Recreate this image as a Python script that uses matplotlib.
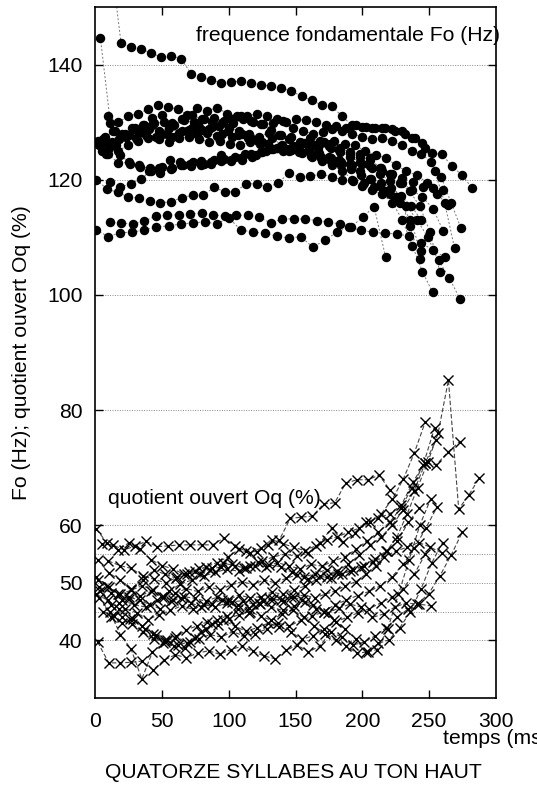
import numpy as np
import matplotlib
matplotlib.use("Agg")
import matplotlib.pyplot as plt

plt.rcParams['font.family'] = ['Liberation Sans', 'DejaVu Sans']

# ---- Fo (Hz) : start time (ms), step (ms), values ----
f0_starts = [12, 4, 1, 1, 11, 11, 10, 0, 3, 8, 6, 2, 5, 2]
f0_steps = [7.5, 7.5, 8.0, 9.0, 8.6, 7.8, 7.4, 7.4, 7.5, 7.6, 7.4, 7.7, 7.5, 7.6]
f0_1 = [158, 143.7, 143.1, 142.7, 142.0, 141.3, 141.5, 141.0, 138.4, 137.8, 137.3, 136.8, 137.0,
        137.1, 136.8, 136.5, 136.3, 135.9, 135.4, 134.5, 133.8, 133.0, 132.8, 131.1, 129.5, 129.2,
        129.0, 129.0, 128.8, 128.4, 127.2, 126.4, 124.6, 124.4, 122.4, 120.8, 118.6]
f0_2 = [144.7, 129.9, 124.3, 122.8, 122.3, 122.0, 121.2, 121.8, 122.5, 122.4, 122.6, 123.0, 123.3,
        123.4, 123.8, 124.5, 124.8, 125.3, 125.7, 125.2, 124.8, 124.4, 123.8, 123.2, 122.6, 121.9,
        120.8, 120.2, 119.5, 118.6, 117.2, 115.5, 113.0]
f0_3 = [120.0, 118.4, 117.8, 117.0, 116.8, 116.3, 116.0, 116.2, 116.9, 117.3, 117.3, 118.7, 117.9,
        117.9, 119.3, 119.3, 118.7, 119.4, 121.2, 120.4, 120.6, 121.0, 120.5, 120.0, 119.8, 119.4,
        118.8, 118.0, 117.0, 115.5, 113.0, 110.0, 106.0, 103.0, 99.3]
f0_4 = [111.3, 110.1, 110.8, 110.9, 111.3, 111.8, 112.0, 112.3, 112.5, 112.7, 112.3, 113.4, 111.3,
        110.9, 110.7, 110.2, 109.9, 110.1, 108.3, 109.5, 110.9, 111.8, 111.2, 110.9, 110.7, 110.6,
        110.2, 109.0, 107.8, 106.5]
f0_5 = [112.6, 112.5, 112.3, 112.8, 113.7, 113.9, 113.9, 114.1, 114.2, 113.9, 113.7, 113.8, 113.9,
        113.5, 112.5, 113.2, 113.2, 113.2, 112.9, 112.7, 112.3, 111.8, 113.5, 115.3, 106.6]
f0_6 = [119.6, 118.7, 119.3, 120.2, 121.6, 122.3, 122.0, 122.6, 123.0, 122.8, 123.4, 123.6, 124.0,
        124.5, 124.3, 125.0, 125.5, 125.3, 125.8, 126.0, 125.5, 125.8, 125.2, 124.6, 124.0, 123.5,
        122.0, 120.8, 119.5, 118.2, 117.0, 115.0, 111.1]
f0_7 = [131.0, 130.0, 131.0, 131.5, 132.2, 133.0, 132.6, 132.3, 131.3, 132.5, 132.0, 132.5, 131.5,
        131.0, 131.0, 131.5, 131.0, 130.5, 130.0, 130.5, 130.3, 130.0, 129.5, 129.3, 129.0, 129.5,
        129.2, 129.0, 129.0, 128.5, 128.0, 127.2, 125.5, 121.5, 116.0, 108.1]
f0_8 = [126.5, 127.5, 128.5, 128.0, 129.0, 129.5, 129.8, 130.0, 129.5, 130.3, 130.0, 130.5, 130.8,
        130.2, 129.8, 130.5, 130.0, 129.6, 129.8, 130.2, 129.0, 128.5, 128.0, 128.3, 128.8, 128.5,
        128.0, 127.4, 127.0, 127.3, 126.8, 126.0, 125.0, 124.5, 123.0, 120.5, 116.0, 111.6]
f0_9 = [126.0, 125.5, 127.0, 127.8, 128.2, 128.8, 128.5, 129.0, 128.2, 128.7, 129.2, 128.8, 129.3,
        129.0, 128.5, 128.0, 127.5, 128.2, 127.8, 127.0, 126.5, 127.2, 126.8, 126.2, 125.5, 124.8,
        124.5, 123.8, 122.0, 121.0, 119.5, 118.0, 115.4, 111.0, 104.0]
f0_10 = [124.5, 126.0, 127.5, 127.2, 127.8, 127.5, 128.0, 127.6, 128.5, 128.0, 128.2, 127.6, 128.4,
         127.8, 127.2, 126.8, 126.2, 125.5, 125.0, 124.8, 125.2, 124.6, 124.0, 123.5, 122.8, 121.5,
         120.2, 119.0, 117.5, 116.0, 113.0, 107.6]
f0_11 = [127.0, 128.5, 127.6, 128.8, 129.5, 130.8, 131.2, 129.8, 130.5, 131.3, 130.5, 130.0, 129.8,
         130.5, 131.0, 130.2, 129.6, 128.6, 127.8, 127.5, 126.3, 125.8, 126.4, 125.5, 124.8, 124.0,
         123.0, 122.4, 121.0, 119.8, 117.0, 112.0, 106.2]
f0_12 = [126.5, 124.5, 122.9, 123.0, 122.5, 121.5, 122.0, 123.4, 123.0, 122.8, 123.2, 122.7, 124.3,
         123.2, 123.5, 124.0, 124.8, 125.3, 125.0, 125.8, 126.4, 126.0, 126.6, 126.8, 126.2, 126.0,
         125.0, 124.3, 123.8, 122.5, 121.5, 120.8, 119.5, 117.5, 115.6]
f0_13 = [125.0, 126.5, 128.0, 129.0, 128.5, 129.5, 128.0, 127.5, 128.5, 129.0, 128.6, 129.2, 128.0,
         127.4, 128.0, 127.0, 126.5, 127.2, 126.0, 125.5, 124.6, 124.0, 123.2, 122.5, 121.6, 120.0,
         119.0, 118.2, 117.5, 116.0, 113.0, 108.5, 104.0, 100.5]
f0_14 = [126.8, 126.0, 125.0, 126.0, 126.8, 127.3, 127.0, 126.5, 127.2, 127.5, 127.0, 126.6, 126.8,
         126.2, 126.0, 126.5, 126.2, 125.6, 125.8, 125.2, 124.8, 124.2, 124.0, 123.7, 123.0, 122.6,
         122.8, 122.0, 121.5, 121.0, 120.3, 119.6, 118.8, 118.5, 118.2]
f0_series = [f0_1, f0_2, f0_3, f0_4, f0_5, f0_6, f0_7, f0_8, f0_9, f0_10, f0_11, f0_12, f0_13, f0_14]

# ---- quotient ouvert Oq (%) ----
oq_starts = [5, 1, 18, 2, 3, 6, 2, 1, 1, 3, 4, 10, 2, 12]
oq_steps = [8.3, 8.2, 7.7, 8.3, 8.7, 8.4, 8.4, 8.2, 8.5, 8.0, 8.0, 8.6, 8.3, 8.4]
oq_1 = [56.8, 56.6, 55.7, 56.4, 57.2, 56.3, 56.4, 56.6, 56.6, 56.6, 56.6, 57.8, 56.4, 55.5, 55.4,
        56.6, 57.4, 61.2, 61.4, 61.6, 63.7, 63.9, 67.3, 67.9, 67.9, 68.7, 66.1]
oq_2 = [59.3, 56.9, 55.7, 57.0, 55.8, 54.0, 53.0, 52.4, 51.5, 52.0, 52.8, 53.5, 54.5, 55.8, 55.2,
        56.0, 57.5, 56.8, 56.2, 55.6, 56.4, 57.5, 58.0, 58.8, 59.5, 60.5, 62.0, 64.5, 68.0, 72.5, 77.9]
oq_3 = [46.5, 47.5, 47.0, 46.2, 45.5, 46.8, 47.3, 46.5, 45.8, 46.4, 47.0, 46.7, 46.9, 46.3, 46.8,
        47.2, 46.8, 47.5, 47.9, 47.4, 48.0, 48.6, 49.5, 50.2, 51.5, 53.0, 55.5, 58.0, 62.0, 66.5,
        71.0, 76.0, 85.2, 62.8, 65.3, 68.2]
oq_4 = [39.7, 36.1, 36.1, 36.2, 36.4, 34.9, 36.6, 37.5, 37.0, 37.8, 38.2, 37.6, 38.4, 39.0, 38.1,
        37.3, 36.8, 38.3, 39.2, 38.0, 39.0, 41.4, 40.6, 39.2, 39.7, 40.8, 42.2, 44.0, 45.5, 46.3, 46.0]
oq_5 = [49.3, 48.3, 47.0, 46.2, 45.8, 47.0, 48.5, 49.8, 50.5, 51.2, 51.8, 52.4, 52.0, 53.0, 53.8,
        54.5, 55.0, 54.6, 55.2, 56.9, 59.5, 57.1, 58.6, 60.6, 61.2, 62.0, 63.5, 67.5, 70.8, 70.5,
        72.7, 74.5]
oq_6 = [45.0, 44.2, 45.5, 44.8, 43.6, 44.5, 45.2, 46.0, 45.4, 46.2, 45.8, 46.5, 46.1, 45.6, 46.3,
        45.8, 45.2, 45.9, 46.6, 45.5, 44.8, 45.6, 46.3, 45.8, 44.0, 44.6, 45.8, 46.5, 46.3, 48.1,
        51.2, 54.8, 58.8]
oq_7 = [54.0, 51.7, 50.5, 49.0, 50.5, 52.2, 51.5, 50.8, 51.5, 52.5, 52.3, 52.8, 53.3, 52.5, 53.0,
        52.8, 53.5, 53.0, 52.4, 53.2, 52.9, 53.8, 54.5, 55.8, 57.3, 58.8, 60.5, 63.0, 66.5, 70.5, 76.9]
oq_8 = [51.0, 49.5, 48.0, 47.2, 47.8, 48.5, 47.5, 47.0, 47.6, 47.3, 46.8, 47.5, 47.0, 47.9, 47.4,
        47.6, 48.4, 48.0, 48.8, 49.4, 50.5, 51.0, 52.0, 53.3, 54.8, 56.5, 58.0, 60.0, 62.7, 66.0,
        70.8, 74.8]
oq_9 = [48.0, 47.0, 45.5, 43.8, 42.5, 41.2, 40.0, 40.8, 39.5, 40.3, 41.0, 40.6, 41.5, 40.8, 41.2,
        42.0, 43.0, 42.5, 43.5, 44.2, 45.0, 46.2, 47.0, 47.8, 48.5, 49.5, 51.0, 53.2, 56.0, 59.5, 63.2]
oq_10 = [47.4, 45.0, 41.0, 38.5, 33.3, 38.0, 39.5, 39.0, 38.6, 40.5, 42.0, 43.5, 44.3, 45.5, 44.8,
         46.5, 47.2, 47.0, 47.6, 47.0, 46.2, 45.0, 43.6, 42.0, 40.2, 38.0, 38.4, 42.0, 48.0, 54.0,
         60.0, 64.5]
oq_11 = [48.5, 46.2, 44.0, 42.8, 41.5, 40.2, 39.8, 40.5, 41.8, 42.5, 43.2, 42.6, 43.8, 44.5, 45.0,
         44.2, 43.5, 44.6, 45.3, 44.0, 42.5, 41.2, 40.0, 39.0, 37.8, 38.0, 39.5, 40.1, 42.2, 45.0,
         49.0, 53.5, 57.0]
oq_12 = [53.8, 53.0, 52.5, 51.2, 50.6, 50.0, 51.0, 51.8, 51.5, 52.6, 53.4, 53.0, 52.5, 53.6, 53.1,
         52.8, 51.8, 51.0, 51.6, 52.3, 51.5, 52.0, 52.8, 53.6, 54.5, 55.5, 56.2, 57.0, 56.2, 55.2]
oq_13 = [50.5, 49.2, 48.0, 48.7, 49.5, 48.8, 47.6, 48.2, 49.0, 48.5, 49.3, 48.8, 49.6, 50.2, 49.7,
         50.5, 50.0, 50.8, 51.4, 50.6, 51.2, 50.8, 51.6, 52.2, 53.0, 54.2, 55.5, 57.2, 60.5, 63.0]
oq_14 = [44.0, 43.0, 43.8, 42.0, 41.0, 40.0, 39.2, 39.8, 41.5, 42.8, 43.5, 42.5, 41.6, 42.2, 43.0,
         42.4, 41.5, 40.2, 40.8, 42.0, 43.2, 44.0, 44.8, 45.5, 46.5, 47.5, 49.0, 51.5, 55.0]
oq_series = [oq_1, oq_2, oq_3, oq_4, oq_5, oq_6, oq_7, oq_8, oq_9, oq_10, oq_11, oq_12, oq_13, oq_14]

major_ticks = [40, 50, 60, 80, 100, 120, 140]
grid_levels = [40, 45, 50, 55, 60, 80, 100, 120, 140]
x_ticks = [0, 50, 100, 150, 200, 250, 300]
fs = 15.2

fig = plt.figure(figsize=(5.37, 7.89), dpi=100)
ax = fig.add_axes([95 / 537, 91 / 789, 401 / 537, 691 / 789])
ax.set_xlim(0, 300)
ax.set_ylim(30, 150)

for g in grid_levels:
    ax.axhline(g, color='#888888', lw=0.7, ls=(0, (1, 1.5)), zorder=1)

for t0, dt, vals in zip(f0_starts, f0_steps, f0_series):
    t = t0 + dt * np.arange(len(vals))
    ax.plot(t, vals, color='#777777', lw=0.7, ls=(0, (2, 2)), zorder=2)
    ax.plot(t, vals, 'o', color='black', ms=5.8, zorder=3)

for t0, dt, vals in zip(oq_starts, oq_steps, oq_series):
    t = t0 + dt * np.arange(len(vals))
    ax.plot(t, vals, color='#444444', lw=0.8, ls=(0, (4, 2)), zorder=2)
    ax.plot(t, vals, 'x', color='black', ms=6.8, mew=1.0, zorder=3)

ax.set_yticks(major_ticks)
ax.set_xticks(x_ticks)
ax.tick_params(axis='both', direction='in', length=6, width=1.0, labelsize=fs,
               right=True, top=True)
ax.tick_params(axis='y', pad=9)
ax.tick_params(axis='x', pad=10)
for tk, val in zip(ax.yaxis.get_major_ticks(), major_ticks):
    if val == 50:
        tk.tick1line.set_visible(False)
        tk.tick2line.set_visible(False)
for tk, val in zip(ax.xaxis.get_major_ticks(), x_ticks):
    if val in (0, 300):
        tk.tick1line.set_visible(False)
        tk.tick2line.set_visible(False)
for s in ax.spines.values():
    s.set_linewidth(1.2)

ax.text(75.5, 145.0, 'frequence fondamentale Fo (Hz)', fontsize=fs, va='center', ha='left')
ax.text(9.5, 64.7, 'quotient ouvert Oq (%)', fontsize=fs, va='center', ha='left')

fig.text(22 / 537, 1 - 353 / 789, 'Fo (Hz); quotient ouvert Oq (%)', rotation=90,
         fontsize=fs, va='center', ha='center')
fig.text(443 / 537, 1 - 739 / 789, 'temps (ms)', fontsize=fs, va='center', ha='left')
fig.text(293 / 537, 1 - 772 / 789, 'QUATORZE SYLLABES AU TON HAUT', fontsize=fs,
         va='center', ha='center')

fig.savefig('out.png', dpi=100)
